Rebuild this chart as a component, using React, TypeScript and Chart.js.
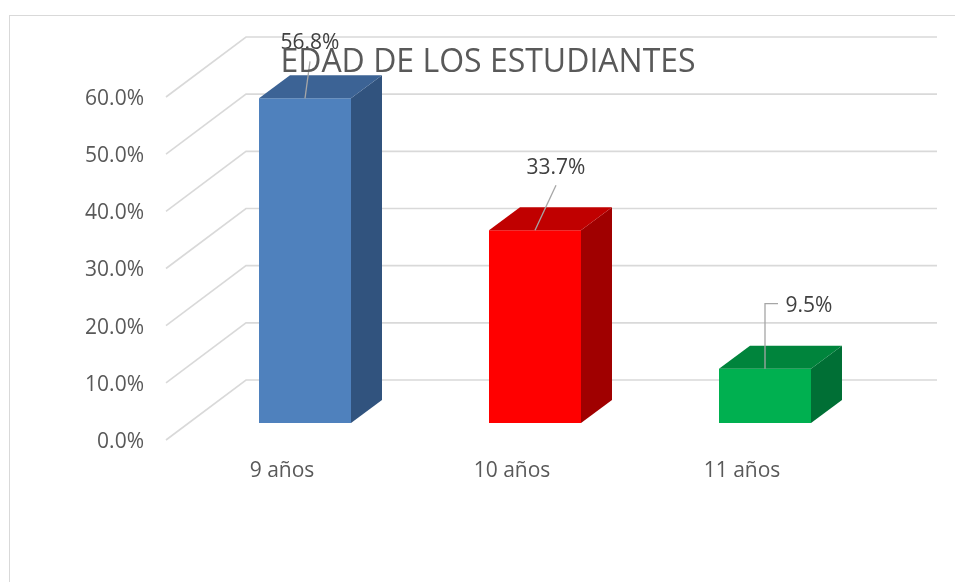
import React, { useEffect, useRef } from "react";
import { Chart, registerables } from "chart.js";

Chart.register(...registerables);

const categories = ["9 años", "10 años", "11 años"];
const values = [56.8, 33.7, 9.5];
const yMin = 0;
const yMax = 60;
const yStep = 10;
const chartTitle = "EDAD DE LOS ESTUDIANTES";
const frontColors = ["#4F81BD", "#FF0000", "#00B050"];
const topColors = ["#3C6395", "#C00000", "#00843C"];
const sideColors = ["#31537E", "#A00000", "#006F35"];

const FONT = "'Open Sans', 'Noto Sans', sans-serif";
const GRID = "#D9D9D9";
// 3D geometry (styling)
const WALL_DX = 80;
const WALL_DY = -60;
const BAR_SHIFT_X = 23;
const BAR_SHIFT_Y = -16;
const BAR_DX = 31;
const BAR_DY = -23;
// label offsets relative to bar front-top centre
const labelOffsets = [
  { pts: [[5, -37]], text: [5, -55] },
  { pts: [[21, -45]], text: [21, -62] },
  { pts: [[0, -65], [13, -65]], text: [44, -63] },
];

const threeD = {
  id: "threeD",
  beforeDraw(chart: any) {
    const { ctx } = chart;
    ctx.save();
    ctx.fillStyle = "#FFFFFF";
    ctx.fillRect(0, 0, chart.width, chart.height);
    ctx.strokeStyle = GRID;
    ctx.lineWidth = 1;
    ctx.strokeRect(9.5, 15.5, 2000, 2000);
    ctx.restore();
  },
  beforeDatasetsDraw(chart: any) {
    const { ctx, chartArea } = chart;
    const ys = chart.scales.y;
    ctx.save();
    ctx.strokeStyle = GRID;
    ctx.lineWidth = 1.6;
    for (let v = yMin; v <= yMax + 1e-9; v += yStep) {
      const y = ys.getPixelForValue(v) + 1;
      ctx.beginPath();
      ctx.moveTo(chartArea.left - 1, y);
      ctx.lineTo(chartArea.left - 1 + WALL_DX, y + WALL_DY);
      ctx.lineTo(chartArea.right + WALL_DX, y + WALL_DY);
      ctx.stroke();
    }
    ctx.restore();
    ctx.save();
    ctx.translate(BAR_SHIFT_X, BAR_SHIFT_Y);
  },
  afterDatasetsDraw(chart: any) {
    const { ctx } = chart;
    const meta = chart.getDatasetMeta(0);
    meta.data.forEach((bar: any, i: number) => {
      const { x, y, base, width } = bar.getProps(["x", "y", "base", "width"], true);
      const l = x - width / 2;
      const r = x + width / 2;
      ctx.fillStyle = sideColors[i];
      ctx.beginPath();
      ctx.moveTo(r, y);
      ctx.lineTo(r + BAR_DX, y + BAR_DY);
      ctx.lineTo(r + BAR_DX, base + BAR_DY);
      ctx.lineTo(r, base);
      ctx.closePath();
      ctx.fill();
      ctx.fillStyle = topColors[i];
      ctx.beginPath();
      ctx.moveTo(l, y);
      ctx.lineTo(l + BAR_DX, y + BAR_DY);
      ctx.lineTo(r + BAR_DX, y + BAR_DY);
      ctx.lineTo(r, y);
      ctx.closePath();
      ctx.fill();
    });
    ctx.restore();

    ctx.save();
    meta.data.forEach((bar: any, i: number) => {
      const { x, y } = bar.getProps(["x", "y"], true);
      const ax = x + BAR_SHIFT_X;
      const ay = y + BAR_SHIFT_Y;
      const o = labelOffsets[i];
      ctx.strokeStyle = "#A6A6A6";
      ctx.lineWidth = 1.3;
      ctx.beginPath();
      ctx.moveTo(ax, ay);
      o.pts.forEach((p) => ctx.lineTo(ax + p[0], ay + p[1]));
      ctx.stroke();
      ctx.fillStyle = "#404040";
      ctx.font = `21px ${FONT}`;
      ctx.textAlign = "center";
      ctx.textBaseline = "middle";
      ctx.fillText(values[i].toFixed(1) + "%", ax + o.text[0], ay + o.text[1]);
    });
    ctx.restore();
  },
  afterDraw(chart: any) {
    const { ctx } = chart;
    ctx.save();
    ctx.fillStyle = "#595959";
    ctx.font = `32px ${FONT}`;
    ctx.textAlign = "center";
    ctx.textBaseline = "alphabetic";
    ctx.fillText(chartTitle, 488, 72);
    ctx.restore();
  },
};

export default function App() {
  const ref = useRef<HTMLCanvasElement | null>(null);
  useEffect(() => {
    if (!ref.current) return;
    const chart = new Chart(ref.current, {
      type: "bar",
      data: {
        labels: categories,
        datasets: [
          {
            data: values,
            backgroundColor: frontColors,
            borderWidth: 0,
            categoryPercentage: 1,
            barPercentage: 0.4,
          },
        ],
      },
      options: {
        animation: false,
        responsive: true,
        maintainAspectRatio: false,
        layout: { padding: { top: 96, right: 98, bottom: 0, left: 0 } },
        plugins: {
          legend: { display: false },
          tooltip: { enabled: false },
          title: { display: false },
        },
        scales: {
          x: {
            grid: { display: false, drawTicks: false },
            border: { display: false },
            ticks: {
              color: "#595959",
              font: { family: FONT, size: 21 },
              padding: 19,
              maxRotation: 0,
            },
            afterFit: (s: any) => {
              s.height = 143;
            },
          },
          y: {
            min: yMin,
            max: yMax,
            grid: { display: false, drawTicks: false },
            border: { display: false },
            ticks: {
              stepSize: yStep,
              color: "#595959",
              font: { family: FONT, size: 21 },
              padding: 23,
              labelOffset: 3,
              callback: (v: any) => Number(v).toFixed(1) + "%",
            },
            afterFit: (s: any) => {
              s.width = 167;
            },
          },
        },
      },
      plugins: [threeD],
    });
    return () => chart.destroy();
  }, []);
  return (
    <div style={{ position: "absolute", left: 0, top: 0, width: 955, height: 582 }}>
      <canvas ref={ref} />
    </div>
  );
}
